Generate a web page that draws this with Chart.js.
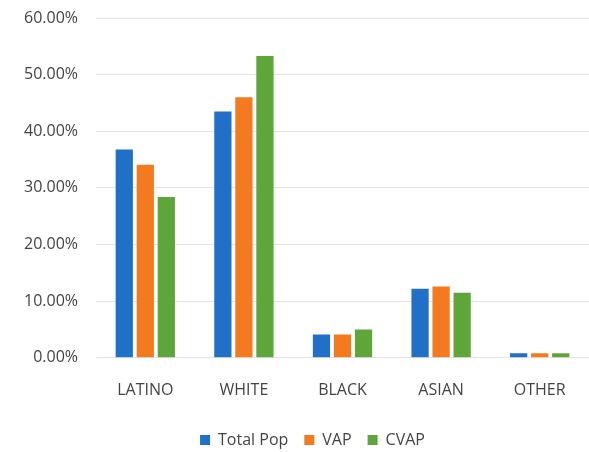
<!DOCTYPE html>
<html>
<head>
<meta charset="utf-8">
<script src="https://cdn.jsdelivr.net/npm/chart.js@4/dist/chart.umd.min.js"></script>
<style>
  html, body { margin: 0; padding: 0; background: #fff; }
  #wrap { width: 589px; height: 452px; }
</style>
</head>
<body>
<div id="wrap"><canvas id="popChart"></canvas></div>
<script>
// chart data
const categories = ['LATINO', 'WHITE', 'BLACK', 'ASIAN', 'OTHER'];
const totalPop = [36.8, 43.5, 4.1, 12.2, 0.8];
const vap = [34.1, 46.0, 4.1, 12.6, 0.8];
const cvap = [28.4, 53.3, 5.0, 11.5, 0.8];
const yTicks = [0, 10, 20, 30, 40, 50, 60];

// nudge the legend a bit right/down like in the original picture
const legendShift = {
    id: 'legendShift',
    afterLayout(chart) {
        const lg = chart.legend;
        if (!lg) return;
        lg.left += 18; lg.right += 18;
        lg.top += 6; lg.bottom += 6;
    }
};

const ctx = document.getElementById('popChart').getContext('2d');
new Chart(ctx, {
    type: 'bar',
    data: {
        labels: categories,
        datasets: [
            { label: 'Total Pop', data: totalPop, backgroundColor: '#2170c7' },
            { label: 'VAP', data: vap, backgroundColor: '#f47a20' },
            { label: 'CVAP', data: cvap, backgroundColor: '#5ea63a' }
        ]
    },
    options: {
        responsive: true,
        maintainAspectRatio: false,
        animation: false,
        datasets: { bar: { categoryPercentage: 0.64, barPercentage: 0.82 } },
        layout: { padding: 0 },
        scales: {
            x: {
                grid: { display: false },
                border: { display: false },
                afterFit: axis => { axis.height -= 5; },
                ticks: { color: '#444', font: { family: 'Open Sans', size: 16 }, padding: 15 }
            },
            y: {
                min: 0,
                max: 60,
                afterBuildTicks: axis => { axis.ticks = yTicks.map(v => ({ value: v })); },
                afterFit: axis => {
                    axis.width = 96;
                    axis.paddingTop = 18; // keep plot top where the reference has it
                    axis.paddingBottom = 10;
                },
                grid: { color: '#e3e3e3', drawTicks: false },
                border: { display: false },
                ticks: {
                    color: '#444',
                    padding: 18,
                    font: { family: 'Open Sans', size: 16 },
                    callback: v => v.toFixed(2) + '%'
                }
            }
        },
        plugins: {
            legend: {
                position: 'bottom',
                labels: {
                    boxWidth: 10,
                    boxHeight: 10,
                    padding: 16,
                    color: '#444',
                    font: { family: 'Open Sans', size: 16 }
                }
            },
            tooltip: { enabled: false }
        }
    },
    plugins: [legendShift]
});
</script>
</body>
</html>
